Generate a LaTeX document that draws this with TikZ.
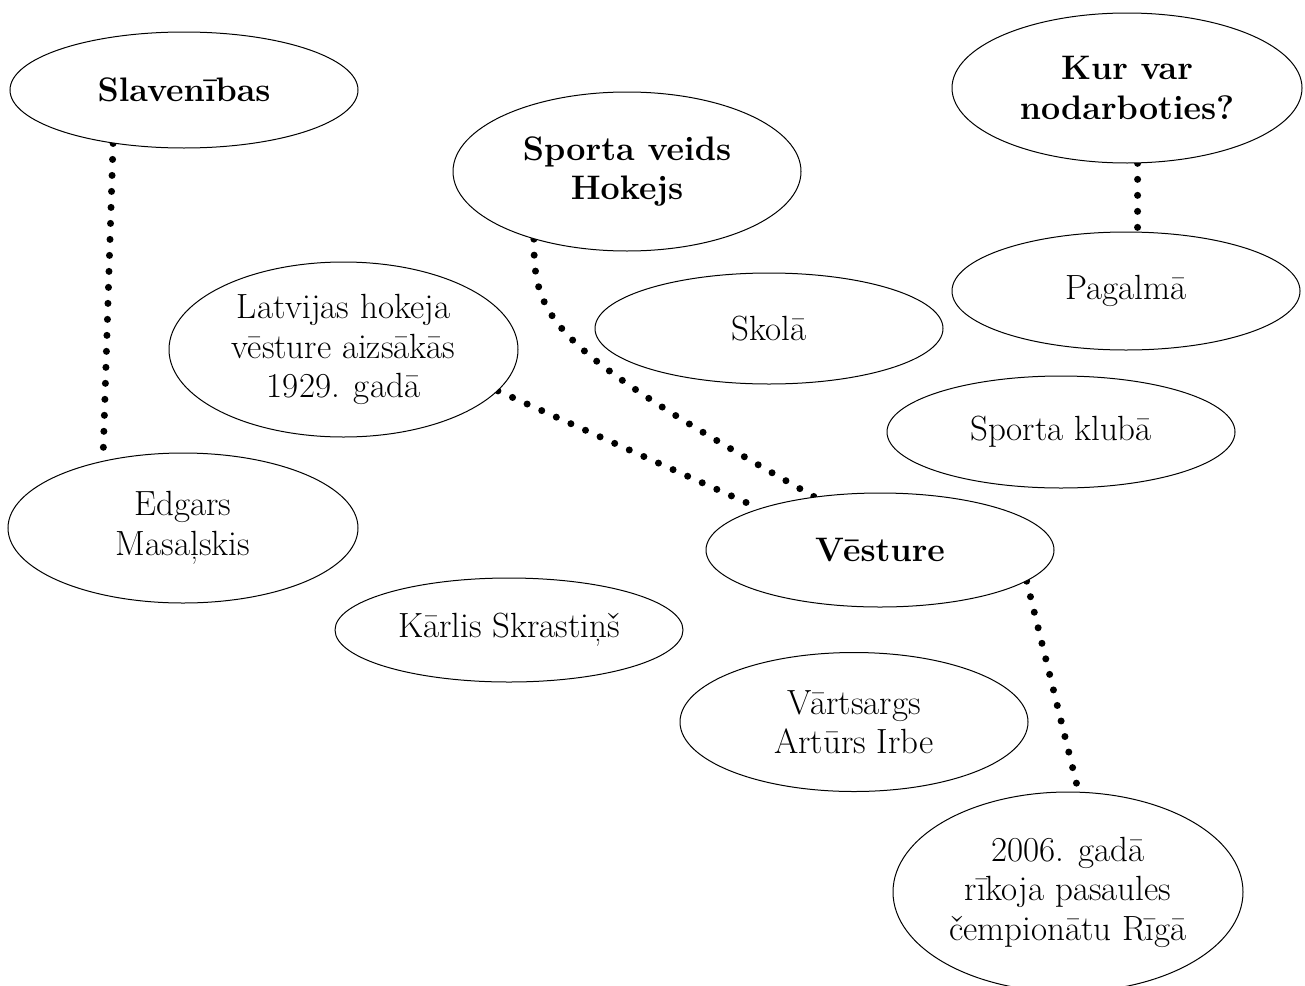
\documentclass[tikz,border=0pt]{standalone}
\usetikzlibrary{shapes.geometric,backgrounds}
\tikzset{
  bub/.style={ellipse, draw, line width=1pt, fill=white, inner xsep=-30pt, inner ysep=0pt,
    align=center, font=\fontsize{35}{39.5}\selectfont, minimum width=348pt},
  bubb/.style={bub, font=\fontsize{34}{39.5}\selectfont\bfseries},
  dotline/.style={line width=7pt, line cap=round, dash pattern=on 0pt off 16pt},
}
\begin{document}
\begin{tikzpicture}[x=1pt,y=-1pt]
\useasboundingbox (0,0) rectangle (1305,985);
\node[bubb, minimum height=116pt] (slav) at (184,90) {Slavenības};
\node[bubb, minimum height=159pt] (spv) at (627,171.5) {Sporta veids\\Hokejs};
\node[bubb, minimum width=350pt, minimum height=150pt] (kur) at (1127,88) {Kur var\\nodarboties?};
\node[bub, minimum height=118pt] (pag) at (1126,291) {Pagalmā};
\node[bub, minimum width=349pt, minimum height=175pt] (latv) at (343.5,349.5) {Latvijas hokeja\\vēsture aizsākās\\1929. gadā};
\node[bub, minimum height=111pt] (skola) at (769,328.5) {Skolā};
\node[bub, minimum height=112pt] (klubs) at (1061,432) {Sporta klubā};
\node[bub, minimum width=350pt, minimum height=150pt] (edg) at (183,528) {Edgars\\Masaļskis};
\node[bubb, minimum height=114pt] (vest) at (880,550) {Vēsture};
\node[bub, minimum height=104pt] (karl) at (509,630) {Kārlis Skrastiņš};
\node[bub, minimum height=139pt] (irbe) at (854,722) {Vārtsargs\\Artūrs Irbe};
\node[bub, minimum width=350pt, minimum height=200pt] (riga) at (1068,892) {2006. gadā\\rīkoja pasaules\\čempionātu Rīgā};
\begin{scope}[on background layer]
  \draw[dotline] (slav.217) -- (edg.140);
  \draw[dotline] (kur.-82.4) -- (pag.79.4);
  \draw[dotline] (spv.216.3) .. controls +(0,80) and +(-266,-150) .. (vest.141.9);
  \draw[dotline] (latv.-15.9) -- (vest.161.7);
  \draw[dotline] (vest.-12.3) -- (riga.84.3);
\end{scope}
\end{tikzpicture}
\end{document}
